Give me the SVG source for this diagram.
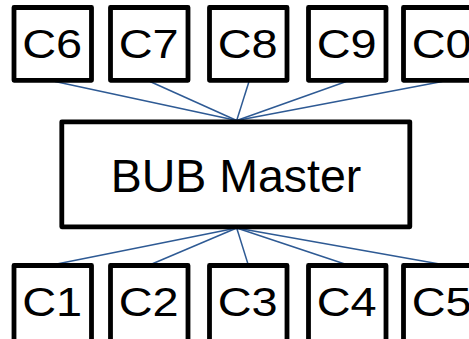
<svg xmlns="http://www.w3.org/2000/svg" width="469" height="339" viewBox="0 0 469 339">
<style>
.box{fill:#fff;stroke:#000;stroke-width:4.8;stroke-linejoin:round}
.lbl{font-family:"Liberation Sans",Arial,sans-serif;font-size:40px;fill:#000;text-anchor:middle}
.mlbl{font-family:"Liberation Sans",Arial,sans-serif;font-size:46.5px;fill:#000;text-anchor:middle}
.conn line{stroke:#2e5a94;stroke-width:1.5}
</style>
<rect width="469" height="339" fill="#fff"/>
<g id="connectors" class="conn">
<line x1="55" y1="81.5" x2="236.7" y2="120.5"/>
<line x1="150" y1="81.5" x2="236.7" y2="120.5"/>
<line x1="249" y1="81.5" x2="236.7" y2="120.5"/>
<line x1="346.3" y1="81.5" x2="236.7" y2="120.5"/>
<line x1="442.3" y1="81.5" x2="236.7" y2="120.5"/>
<line x1="236.7" y1="228" x2="54.3" y2="264.5"/>
<line x1="236.7" y1="228" x2="150.7" y2="264.5"/>
<line x1="236.7" y1="228" x2="248.3" y2="265"/>
<line x1="236.7" y1="228" x2="346.3" y2="264.5"/>
<line x1="236.7" y1="228" x2="442.3" y2="264.5"/>
</g>
<g id="master">
<rect class="box" x="61.8" y="121.8" width="348" height="105" stroke-width="5"/>
<text class="mlbl" x="236" y="192.3">BUB Master</text>
</g>
<g id="C6"><rect class="box" x="14" y="7.5" width="77.5" height="72.8"/><text class="lbl" x="52.2" y="58.3" textLength="60" lengthAdjust="spacingAndGlyphs">C6</text></g>
<g id="C7"><rect class="box" x="110.5" y="7.5" width="77.5" height="72.8"/><text class="lbl" x="148.7" y="58.3" textLength="60" lengthAdjust="spacingAndGlyphs">C7</text></g>
<g id="C8"><rect class="box" x="209.5" y="7.5" width="77.5" height="72.8"/><text class="lbl" x="247.7" y="58.3" textLength="60" lengthAdjust="spacingAndGlyphs">C8</text></g>
<g id="C9"><rect class="box" x="308.5" y="7.5" width="77.5" height="72.8"/><text class="lbl" x="346.7" y="58.3" textLength="60" lengthAdjust="spacingAndGlyphs">C9</text></g>
<g id="C0"><rect class="box" x="403.5" y="7.5" width="77.5" height="72.8"/><text class="lbl" x="441.7" y="58.3" textLength="60" lengthAdjust="spacingAndGlyphs">C0</text></g>
<g id="C1"><rect class="box" x="14" y="265.5" width="77.5" height="80"/><text class="lbl" x="52.2" y="316" textLength="60" lengthAdjust="spacingAndGlyphs">C1</text></g>
<g id="C2"><rect class="box" x="110.5" y="265.5" width="77.5" height="80"/><text class="lbl" x="148.7" y="316" textLength="60" lengthAdjust="spacingAndGlyphs">C2</text></g>
<g id="C3"><rect class="box" x="209.5" y="265.5" width="77.5" height="80"/><text class="lbl" x="247.7" y="316" textLength="60" lengthAdjust="spacingAndGlyphs">C3</text></g>
<g id="C4"><rect class="box" x="308.5" y="265.5" width="77.5" height="80"/><text class="lbl" x="346.7" y="316" textLength="60" lengthAdjust="spacingAndGlyphs">C4</text></g>
<g id="C5"><rect class="box" x="403.5" y="265.5" width="77.5" height="80"/><text class="lbl" x="441.7" y="316" textLength="60" lengthAdjust="spacingAndGlyphs">C5</text></g>
</svg>
